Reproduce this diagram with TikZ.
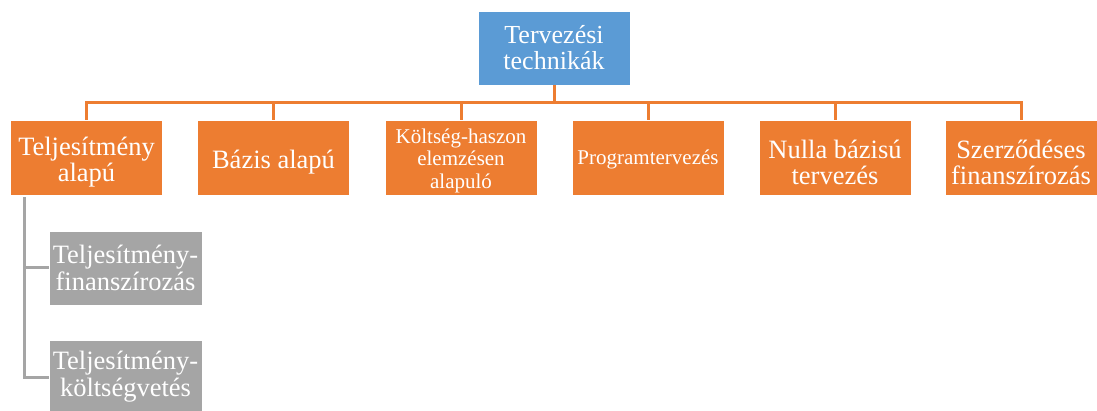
\documentclass[tikz,border=0pt]{standalone}
\usepackage{fontspec}
\setmainfont{Liberation Serif}
\definecolor{blueC}{HTML}{5B9BD5}
\definecolor{orangeC}{HTML}{ED7D31}
\definecolor{grayC}{HTML}{A5A5A5}
\begin{document}
\begin{tikzpicture}[x=1pt,y=-1pt,
  box/.style={rectangle, inner sep=0pt, align=center, text=white, draw=white, line width=0.4pt,
    minimum width=152pt, minimum height=75pt, font=\fontsize{26}{26}\selectfont},
  topbox/.style={box, fill=blueC, minimum height=74pt},
  obox/.style={box, fill=orangeC},
  otext/.style={inner sep=0pt, align=center, text=white, font=\fontsize{26.5}{26}\selectfont},
  osmall/.style={otext, font=\fontsize{21}{22.5}\selectfont},
  gbox/.style={box, fill=grayC, minimum width=153pt, minimum height=74pt, font=\fontsize{26.5}{27}\selectfont},
  oline/.style={draw=orangeC, line width=3pt},
  gline/.style={draw=grayC, line width=3pt}]
\useasboundingbox (0,0) rectangle (1097,411);
\node[topbox] (top) at (554,48) {Tervezési\\technikák};
\coordinate (bus) at (554,103);
\node[obox] (b1) at (86.5,157.5) {};
\node[obox] (b2) at (273.5,157.5) {};
\node[obox] (b3) at (461,157.5) {};
\node[obox] (b4) at (648,157.5) {};
\node[obox] (b5) at (835,157.5) {};
\node[obox] (b6) at (1021,157.5) {};
\node[otext] (t1) at ([yshift=-4.5pt]b1.center) {Teljesítmény\\alapú};
\node[otext] (t2) at ([yshift=-4.5pt]b2.center) {Bázis alapú};
\node[osmall] (t3) at ([yshift=-3pt]b3.center) {Költség-haszon\\elemzésen\\alapuló};
\node[osmall] (t4) at ([yshift=-2pt]b4.center) {Programtervezés};
\node[otext] (t5) at ([yshift=-4.5pt]b5.center) {Nulla bázisú\\tervezés};
\node[otext] (t6) at ([yshift=-4.5pt]b6.center) {Szerződéses\\finanszírozás};
\node[gbox] (g1) at (125.5,268) {Teljesítmény-\\finanszírozás};
\node[gbox] (g2) at (125.5,377) {Teljesítmény-\\költségvetés};
\draw[oline] (top.south) -- (bus);
\foreach \n in {b1,b2,b3,b4,b5,b6}{\draw[oline] (bus) -| (\n.north);}
\draw[gline] ([xshift=14pt,yshift=-2pt]b1.south west) |- (g1.west);
\draw[gline] ([xshift=14pt,yshift=-2pt]b1.south west) |- (g2.west);
\end{tikzpicture}
\end{document}
